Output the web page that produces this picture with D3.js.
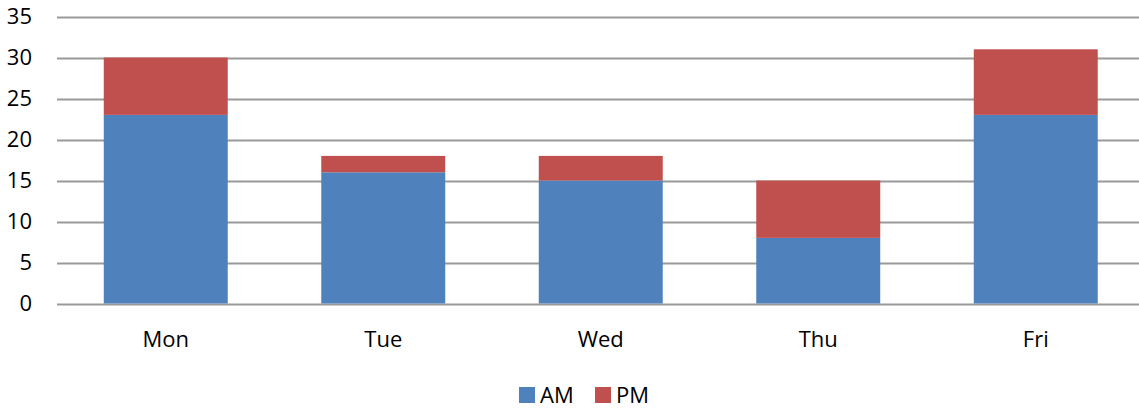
<!DOCTYPE html>
<html>
<head>
<meta charset="utf-8">
<script src="https://cdn.jsdelivr.net/npm/d3@7"></script>
<style>
  body { margin: 0; background: #fff; }
  svg { display: block; font-family: "Open Sans", "Liberation Sans", sans-serif; }
</style>
</head>
<body>
<svg id="chart" width="1139" height="409"></svg>
<script>
// Weekly counts split into morning and afternoon
const days = ["Mon", "Tue", "Wed", "Thu", "Fri"];
const amValues = [23, 16, 15, 8, 23];
const pmValues = [7, 2, 3, 7, 8];
const seriesNames = ["AM", "PM"];
const seriesColors = ["#4F81BD", "#C0504D"];
const yTicks = [0, 5, 10, 15, 20, 25, 30, 35];

const svg = d3.select("#chart");
const width = 1139, height = 409;
const plot = { left: 57, right: 1144.5, gridRight: 1139, top: 16.5, bottom: 303.5 };
const fontSize = 22;

const rows = days.map((d, i) => ({ day: d, AM: amValues[i], PM: pmValues[i] }));
const stacked = d3.stack().keys(seriesNames)(rows);

const x = d3.scaleBand()
  .domain(days)
  .range([plot.left, plot.right])
  .paddingInner(0.43)
  .paddingOuter(0.215);

const y = d3.scaleLinear()
  .domain([0, 35])
  .range([plot.bottom, plot.top]);

// Horizontal gridlines
svg.append("g")
  .selectAll("line")
  .data(yTicks)
  .join("line")
  .attr("x1", plot.left)
  .attr("x2", plot.gridRight)
  .attr("y1", d => Math.round(y(d)) + 0.5)
  .attr("y2", d => Math.round(y(d)) + 0.5)
  .attr("stroke", "#999")
  .attr("stroke-width", 2);

// Y axis labels
const yAxis = d3.axisLeft(y).tickValues(yTicks).tickSize(0).tickPadding(25);
svg.append("g")
  .attr("transform", `translate(${plot.left},0)`)
  .call(yAxis)
  .call(g => g.select(".domain").remove())
  .call(g => g.selectAll("text")
    .attr("font-size", fontSize)
    .attr("fill", "#000")
    .attr("font-family", "'Open Sans', 'Liberation Sans', sans-serif"));

// Stacked bars
svg.append("g")
  .selectAll("g")
  .data(stacked)
  .join("g")
  .attr("fill", (d, i) => seriesColors[i])
  .selectAll("rect")
  .data(d => d)
  .join("rect")
  .attr("x", d => x(d.data.day))
  .attr("width", x.bandwidth())
  .attr("y", d => y(d[1]))
  .attr("height", d => y(d[0]) - y(d[1]));

// Category labels
const xAxis = d3.axisBottom(x).tickSize(0).tickPadding(28);
svg.append("g")
  .attr("transform", `translate(0,${plot.bottom})`)
  .call(xAxis)
  .call(g => g.select(".domain").remove())
  .call(g => g.selectAll("text")
    .attr("font-size", fontSize)
    .attr("fill", "#000")
    .attr("font-family", "'Open Sans', 'Liberation Sans', sans-serif"));

// Legend
const legendX = [519, 595];
const legend = svg.append("g")
  .selectAll("g")
  .data(seriesNames)
  .join("g")
  .attr("transform", (d, i) => `translate(${legendX[i]},387)`);
legend.append("rect")
  .attr("width", 16)
  .attr("height", 16)
  .attr("fill", (d, i) => seriesColors[i]);
legend.append("text")
  .attr("x", 21)
  .attr("y", 8)
  .attr("dy", "0.35em")
  .attr("font-size", fontSize)
  .attr("fill", "#000")
  .text(d => d);
</script>
</body>
</html>
